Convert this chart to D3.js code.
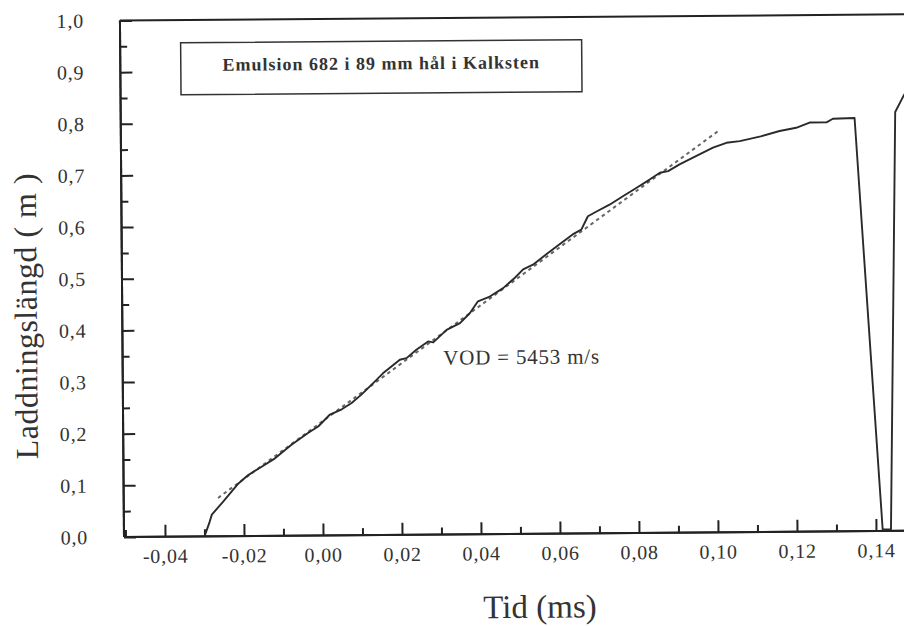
<!DOCTYPE html>
<html>
<head>
<meta charset="utf-8">
<script src="https://cdn.jsdelivr.net/npm/d3@7"></script>
<style>
  html, body { margin: 0; padding: 0; background: #fff; }
  svg { display: block; }
  text { font-family: "Liberation Serif", "Times New Roman", "DejaVu Serif", serif; fill: #333; }
</style>
</head>
<body>
<script>
// ---- data (time in ms, charge length in m) ----
const timeMs = [-0.0300, -0.0288, -0.0281, -0.0252, -0.0213, -0.0188, -0.0154, -0.0120, -0.0078, -0.0035, -0.0010,
  0.0020, 0.0050, 0.0075, 0.0100, 0.0134, 0.0155, 0.0198, 0.0215, 0.0240, 0.0270,
  0.0283, 0.0317, 0.0351, 0.0376, 0.0397, 0.0427, 0.0461, 0.0491, 0.0512, 0.0537,
  0.0571, 0.0603, 0.0638, 0.0660, 0.0677, 0.0699, 0.0732, 0.0766, 0.0800, 0.0834,
  0.0860, 0.0881, 0.0910, 0.0953, 0.0995, 0.1029, 0.1063, 0.1116, 0.1164, 0.1206,
  0.1240, 0.1283, 0.1299, 0.1354, 0.1417, 0.1438, 0.1457, 0.1479, 0.1500];
const chargeLen = [0.000, 0.025, 0.042, 0.067, 0.102, 0.118, 0.134, 0.150, 0.176, 0.199, 0.211,
  0.234, 0.244, 0.256, 0.272, 0.297, 0.313, 0.339, 0.342, 0.358, 0.374,
  0.372, 0.396, 0.409, 0.428, 0.451, 0.460, 0.476, 0.496, 0.512, 0.521,
  0.541, 0.559, 0.579, 0.588, 0.614, 0.623, 0.636, 0.652, 0.668, 0.684,
  0.697, 0.700, 0.713, 0.729, 0.745, 0.754, 0.757, 0.766, 0.776, 0.782,
  0.792, 0.792, 0.799, 0.800, 0.003, 0.003, 0.811, 0.843, 0.870];

// linear fit (VOD) end points
const fitTime = [-0.0265, 0.1008];
const fitLen = [0.0742, 0.7766];

const xTickValues = [-0.04, -0.02, 0.00, 0.02, 0.04, 0.06, 0.08, 0.10, 0.12, 0.14];
const xTickLabels = ["-0,04", "-0,02", "0,00", "0,02", "0,04", "0,06", "0,08", "0,10", "0,12", "0,14"];
const xMinorValues = [-0.05, -0.03, -0.01, 0.01, 0.03, 0.05, 0.07, 0.09, 0.11, 0.13, 0.15];
const yTickValues = [0.0, 0.1, 0.2, 0.3, 0.4, 0.5, 0.6, 0.7, 0.8, 0.9, 1.0];
const yTickLabels = ["0,0", "0,1", "0,2", "0,3", "0,4", "0,5", "0,6", "0,7", "0,8", "0,9", "1,0"];
const yMinorValues = [0.05, 0.15, 0.25, 0.35, 0.45, 0.55, 0.65, 0.75, 0.85, 0.95];

const titleText = "Emulsion 682 i 89 mm hål i Kalksten";
const vodText = "VOD = 5453 m/s";
const xTitle = "Tid (ms)";
const yTitle = "Laddningslängd ( m )";

// ---- layout ----
const W = 904, H = 626;
const x0 = 124, yBase = 537, yTop = 20.5;
const x = d3.scaleLinear().domain([(x0 - 323) / 3950, 0.16]).range([x0, 323 + 0.16 * 3950]);
const y = d3.scaleLinear().domain([0, 1]).range([yBase, yTop]);

const svg = d3.select("body").append("svg").attr("width", W).attr("height", H);
svg.append("rect").attr("width", W).attr("height", H).attr("fill", "#fff");

const g = svg.append("g").attr("transform", `rotate(-0.45, ${x0}, ${yBase})`);

// frame: top line
g.append("line").attr("x1", x0).attr("x2", x.range()[1]).attr("y1", yTop).attr("y2", yTop)
  .attr("stroke", "#222").attr("stroke-width", 2);

// X axis
const fmtX = d => xTickLabels[xTickValues.indexOf(d)];
const xAxisMajor = d3.axisBottom(x).tickValues(xTickValues).tickFormat(fmtX).tickSize(-12).tickPadding(12);
const xAxisMinor = d3.axisBottom(x).tickValues(xMinorValues).tickFormat("").tickSize(-7);
const gx = g.append("g").attr("transform", `translate(0,${yBase})`).call(xAxisMajor);
const gx2 = g.append("g").attr("transform", `translate(0,${yBase})`).call(xAxisMinor);
[gx, gx2].forEach(a => {
  a.select(".domain").attr("stroke", "#222").attr("stroke-width", 2).attr("d", `M${x0},0H${x.range()[1]}`);
  a.selectAll(".tick line").attr("stroke", "#222").attr("stroke-width", 2);
});
gx.selectAll(".tick text").attr("font-size", 20).attr("letter-spacing", "0.8px")
  .attr("font-family", '"Liberation Serif", "Times New Roman", serif').attr("fill", "#333");

// Y axis
const fmtY = d => yTickLabels[yTickValues.indexOf(d)];
const yAxisMajor = d3.axisLeft(y).tickValues(yTickValues).tickFormat(fmtY).tickSize(-12).tickPadding(36);
const yAxisMinor = d3.axisLeft(y).tickValues(yMinorValues).tickFormat("").tickSize(-7);
const gy = g.append("g").attr("transform", `translate(${x0},0)`).call(yAxisMajor);
const gy2 = g.append("g").attr("transform", `translate(${x0},0)`).call(yAxisMinor);
[gy, gy2].forEach(a => {
  a.select(".domain").attr("stroke", "#222").attr("stroke-width", 2).attr("d", `M0,${yBase}V${yTop}`);
  a.selectAll(".tick line").attr("stroke", "#222").attr("stroke-width", 2);
});
gy.selectAll(".tick text").attr("font-size", 20).attr("letter-spacing", "0.8px")
  .attr("font-family", '"Liberation Serif", "Times New Roman", serif').attr("fill", "#333");

// fit line (dotted)
const fitData = fitTime.map((t, i) => [t, fitLen[i]]);
g.append("path").datum(fitData)
  .attr("d", d3.line().x(d => x(d[0])).y(d => y(d[1])))
  .attr("fill", "none").attr("stroke", "#666").attr("stroke-width", 2)
  .attr("stroke-dasharray", "3.5,3.5");

// measured curve
const curve = timeMs.map((t, i) => [t, chargeLen[i]]);
g.append("path").datum(curve)
  .attr("d", d3.line().x(d => x(d[0])).y(d => y(d[1])))
  .attr("fill", "none").attr("stroke", "#2a2a2a").attr("stroke-width", 1.9)
  .attr("stroke-linejoin", "round");

// title box
g.append("rect").attr("x", 184.5).attr("y", 43.3).attr("width", 401).attr("height", 52)
  .attr("fill", "#fff").attr("stroke", "#333").attr("stroke-width", 1.5);
g.append("text").attr("x", 385).attr("y", 71.5).attr("text-anchor", "middle")
  .attr("font-size", 18).attr("font-weight", "bold").attr("letter-spacing", "1px")
  .text(titleText);

// VOD annotation
g.append("text").attr("x", x(0.0308)).attr("y", y(0.3288))
  .attr("font-size", 21).attr("letter-spacing", "0.8px").text(vodText);

// axis titles
g.append("text").attr("x", 539.4).attr("y", 621).attr("text-anchor", "middle")
  .attr("font-size", 33).text(xTitle);
g.append("text").attr("transform", "translate(38.5,315.4) rotate(-90)").attr("text-anchor", "middle")
  .attr("font-size", 32).attr("letter-spacing", "0.5px").text(yTitle);
</script>
</body>
</html>
